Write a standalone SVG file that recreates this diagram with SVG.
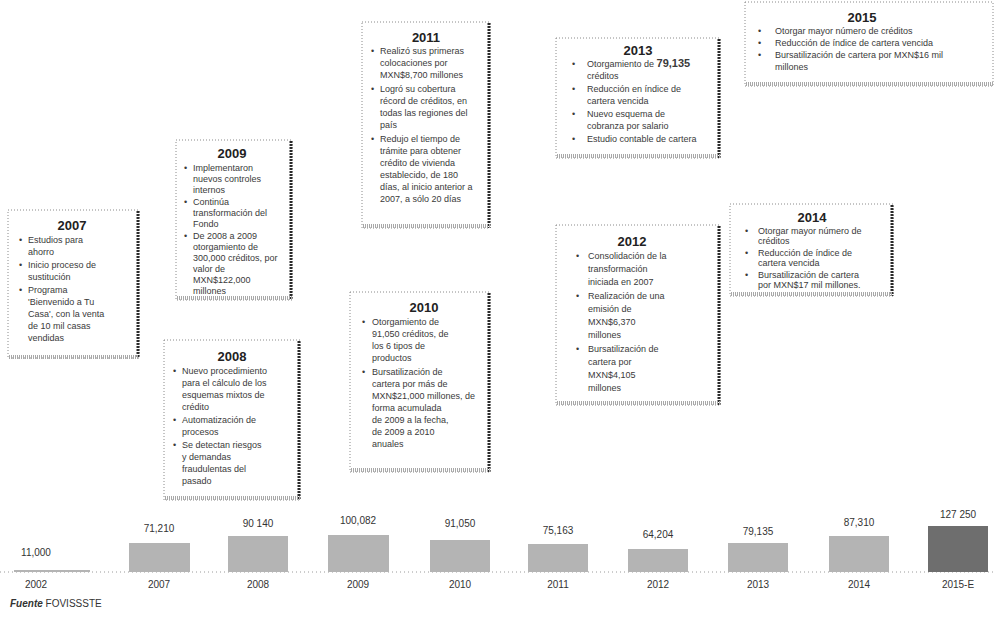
<svg xmlns="http://www.w3.org/2000/svg" width="994" height="619" viewBox="0 0 994 619">
<style>
.bg{fill:#ffffff}
.box{fill:#ffffff;stroke:#8a8a8a;stroke-width:1;stroke-dasharray:1 2}
.edgeR{stroke:#2a2a2a;stroke-width:3;stroke-dasharray:2 1}
.edgeB{stroke:#a8a8a8;stroke-width:4;stroke-dasharray:1 1}
.title{font-family:"Liberation Sans",Arial,sans-serif;font-weight:bold;font-size:13px;fill:#222;text-anchor:middle}
.body{font-family:"Liberation Sans",Arial,sans-serif;font-size:9px;fill:#3a3a3a}
.val{font-family:"Liberation Sans",Arial,sans-serif;font-size:10px;fill:#333;text-anchor:middle}
.yr{font-family:"Liberation Sans",Arial,sans-serif;font-size:10px;fill:#333;text-anchor:middle}
.bar{fill:#b4b4b4}
.barD{fill:#6e6e6e}
.base{stroke:#9a9a9a;stroke-width:1;stroke-dasharray:1 3}
.src{font-family:"Liberation Sans",Arial,sans-serif;font-size:10px;fill:#333}
</style>
<rect class="bg" x="0" y="0" width="994" height="619"/>

<g id="node-2007">
<rect class="box" x="8" y="210" width="131" height="148"/>
<line class="edgeR" x1="138" y1="211" x2="138" y2="358"/>
<line class="edgeB" x1="9" y1="357" x2="139" y2="357"/>
<text class="title" x="72" y="230">2007</text>
<text class="body"><tspan x="19" y="243">•</tspan><tspan x="28" y="243">Estudios para</tspan><tspan x="28" y="255">ahorro</tspan><tspan x="19" y="268">•</tspan><tspan x="28" y="268">Inicio proceso de</tspan><tspan x="28" y="280">sustitución</tspan><tspan x="19" y="293">•</tspan><tspan x="28" y="293">Programa</tspan><tspan x="28" y="305">'Bienvenido a Tu</tspan><tspan x="28" y="317">Casa', con la venta</tspan><tspan x="28" y="329">de 10 mil casas</tspan><tspan x="28" y="341">vendidas</tspan></text>
</g>

<g id="node-2009">
<rect class="box" x="176" y="140" width="116" height="160"/>
<line class="edgeR" x1="291" y1="141" x2="291" y2="300"/>
<line class="edgeB" x1="177" y1="298" x2="292" y2="298"/>
<text class="title" x="232" y="158">2009</text>
<text class="body"><tspan x="184" y="171">•</tspan><tspan x="193" y="171">Implementaron</tspan><tspan x="193" y="182">nuevos controles</tspan><tspan x="193" y="193">internos</tspan><tspan x="184" y="205">•</tspan><tspan x="193" y="205">Continúa</tspan><tspan x="193" y="216">transformación del</tspan><tspan x="193" y="227">Fondo</tspan><tspan x="184" y="239">•</tspan><tspan x="193" y="239">De 2008 a 2009</tspan><tspan x="193" y="250">otorgamiento de</tspan><tspan x="193" y="261">300,000 créditos, por</tspan><tspan x="193" y="272">valor de</tspan><tspan x="193" y="283">MXN$122,000</tspan><tspan x="193" y="294">millones</tspan></text>
</g>

<g id="node-2008">
<rect class="box" x="164" y="340" width="136" height="160"/>
<line class="edgeR" x1="299" y1="341" x2="299" y2="500"/>
<line class="edgeB" x1="165" y1="498" x2="300" y2="498"/>
<text class="title" x="232" y="361">2008</text>
<text class="body"><tspan x="173" y="374">•</tspan><tspan x="182" y="374">Nuevo procedimiento</tspan><tspan x="182" y="386">para el cálculo de los</tspan><tspan x="182" y="398">esquemas mixtos de</tspan><tspan x="182" y="410">crédito</tspan><tspan x="173" y="423">•</tspan><tspan x="182" y="423">Automatización de</tspan><tspan x="182" y="435">procesos</tspan><tspan x="173" y="448">•</tspan><tspan x="182" y="448">Se detectan riesgos</tspan><tspan x="182" y="460">y demandas</tspan><tspan x="182" y="472">fraudulentas del</tspan><tspan x="182" y="484">pasado</tspan></text>
</g>

<g id="node-2011">
<rect class="box" x="362" y="22" width="128" height="206"/>
<line class="edgeR" x1="489" y1="23" x2="489" y2="228"/>
<line class="edgeB" x1="363" y1="226" x2="490" y2="226"/>
<text class="title" x="426" y="42">2011</text>
<text class="body"><tspan x="371" y="54">•</tspan><tspan x="380" y="54">Realizó sus primeras</tspan><tspan x="380" y="66">colocaciones por</tspan><tspan x="380" y="78">MXN$8,700 millones</tspan><tspan x="371" y="92">•</tspan><tspan x="380" y="92">Logró su cobertura</tspan><tspan x="380" y="104">récord de créditos, en</tspan><tspan x="380" y="116">todas las regiones del</tspan><tspan x="380" y="128">país</tspan><tspan x="371" y="142">•</tspan><tspan x="380" y="142">Redujo el tiempo de</tspan><tspan x="380" y="154">trámite para obtener</tspan><tspan x="380" y="166">crédito de vivienda</tspan><tspan x="380" y="178">establecido, de 180</tspan><tspan x="380" y="190">días, al inicio anterior a</tspan><tspan x="380" y="202">2007, a sólo 20 días</tspan></text>
</g>

<g id="node-2010">
<rect class="box" x="350" y="292" width="140" height="180"/>
<line class="edgeR" x1="489" y1="293" x2="489" y2="472"/>
<line class="edgeB" x1="351" y1="470" x2="490" y2="470"/>
<text class="title" x="424" y="312">2010</text>
<text class="body"><tspan x="362" y="325">•</tspan><tspan x="372" y="325">Otorgamiento de</tspan><tspan x="372" y="337">91,050 créditos, de</tspan><tspan x="372" y="349">los 6 tipos de</tspan><tspan x="372" y="361">productos</tspan><tspan x="362" y="375">•</tspan><tspan x="372" y="375">Bursatilización de</tspan><tspan x="372" y="387">cartera por más de</tspan><tspan x="372" y="399">MXN$21,000 millones, de</tspan><tspan x="372" y="411">forma acumulada</tspan><tspan x="372" y="423">de 2009 a la fecha,</tspan><tspan x="372" y="435">de 2009 a 2010</tspan><tspan x="372" y="447">anuales</tspan></text>
</g>

<g id="node-2013">
<rect class="box" x="556" y="38" width="164" height="120"/>
<line class="edgeR" x1="719" y1="39" x2="719" y2="158"/>
<line class="edgeB" x1="557" y1="156" x2="720" y2="156"/>
<text class="title" x="638" y="55">2013</text>
<text class="body"><tspan x="572" y="67">•</tspan><tspan x="587" y="67">Otorgamiento de </tspan><tspan font-size="11" font-weight="bold">79,135</tspan><tspan x="587" y="79">créditos</tspan><tspan x="572" y="92">•</tspan><tspan x="587" y="92">Reducción en índice de</tspan><tspan x="587" y="104">cartera vencida</tspan><tspan x="572" y="117">•</tspan><tspan x="587" y="117">Nuevo esquema de</tspan><tspan x="587" y="129">cobranza por salario</tspan><tspan x="572" y="142">•</tspan><tspan x="587" y="142">Estudio contable de cartera</tspan></text>
</g>

<g id="node-2012">
<rect class="box" x="556" y="225" width="164" height="180"/>
<line class="edgeR" x1="719" y1="226" x2="719" y2="405"/>
<line class="edgeB" x1="557" y1="403" x2="720" y2="403"/>
<text class="title" x="632" y="246">2012</text>
<text class="body"><tspan x="576" y="259">•</tspan><tspan x="588" y="259">Consolidación de la</tspan><tspan x="588" y="272">transformación</tspan><tspan x="588" y="285">iniciada en 2007</tspan><tspan x="576" y="299">•</tspan><tspan x="588" y="299">Realización de una</tspan><tspan x="588" y="312">emisión de</tspan><tspan x="588" y="325">MXN$6,370</tspan><tspan x="588" y="338">millones</tspan><tspan x="576" y="352">•</tspan><tspan x="588" y="352">Bursatilización de</tspan><tspan x="588" y="365">cartera por</tspan><tspan x="588" y="378">MXN$4,105</tspan><tspan x="588" y="391">millones</tspan></text>
</g>

<g id="node-2015">
<rect class="box" x="745" y="2" width="248" height="84"/>
<line class="edgeB" x1="746" y1="84" x2="993" y2="84"/>
<text class="title" x="862" y="22">2015</text>
<text class="body"><tspan x="758" y="34">•</tspan><tspan x="775" y="34">Otorgar mayor número de créditos</tspan><tspan x="758" y="46">•</tspan><tspan x="775" y="46">Reducción de índice de cartera vencida</tspan><tspan x="758" y="58">•</tspan><tspan x="775" y="58">Bursatilización de cartera por MXN$16 mil</tspan><tspan x="775" y="70">millones</tspan></text>
</g>

<g id="node-2014">
<rect class="box" x="730" y="204" width="163" height="92"/>
<line class="edgeR" x1="892" y1="205" x2="892" y2="296"/>
<line class="edgeB" x1="731" y1="294" x2="893" y2="294"/>
<text class="title" x="812" y="222">2014</text>
<text class="body"><tspan x="745" y="234">•</tspan><tspan x="758" y="234">Otorgar mayor número de</tspan><tspan x="758" y="244">créditos</tspan><tspan x="745" y="256">•</tspan><tspan x="758" y="256">Reducción de índice de</tspan><tspan x="758" y="266">cartera vencida</tspan><tspan x="745" y="278">•</tspan><tspan x="758" y="278">Bursatilización de cartera</tspan><tspan x="758" y="288">por MXN$17 mil millones.</tspan></text>
</g>

<g id="connectors"></g>

<g id="chart">
<line class="base" x1="0" y1="572" x2="994" y2="572"/>
<rect class="bar" x="14" y="570" width="76" height="2"/>
<text class="val" x="36" y="556">11,000</text>
<text class="yr" x="36" y="588">2002</text>
<rect class="bar" x="129" y="543" width="61" height="29"/>
<text class="val" x="159" y="532">71,210</text>
<text class="yr" x="159" y="588">2007</text>
<rect class="bar" x="228" y="536" width="60" height="36"/>
<text class="val" x="258" y="527">90 140</text>
<text class="yr" x="258" y="588">2008</text>
<rect class="bar" x="328" y="535" width="61" height="37"/>
<text class="val" x="358" y="524">100,082</text>
<text class="yr" x="358" y="588">2009</text>
<rect class="bar" x="430" y="540" width="60" height="32"/>
<text class="val" x="460" y="527">91,050</text>
<text class="yr" x="460" y="588">2010</text>
<rect class="bar" x="528" y="544" width="60" height="28"/>
<text class="val" x="558" y="534">75,163</text>
<text class="yr" x="558" y="588">2011</text>
<rect class="bar" x="628" y="549" width="60" height="23"/>
<text class="val" x="658" y="538">64,204</text>
<text class="yr" x="658" y="588">2012</text>
<rect class="bar" x="728" y="543" width="60" height="29"/>
<text class="val" x="758" y="535">79,135</text>
<text class="yr" x="758" y="588">2013</text>
<rect class="bar" x="829" y="536" width="60" height="36"/>
<text class="val" x="859" y="526">87,310</text>
<text class="yr" x="859" y="588">2014</text>
<rect class="barD" x="928" y="526" width="60" height="46"/>
<text class="val" x="958" y="518">127 250</text>
<text class="yr" x="958" y="588">2015-E</text>
</g>

<text class="src" x="10" y="607"><tspan font-weight="bold" font-style="italic">Fuente</tspan> FOVISSSTE</text>
</svg>
